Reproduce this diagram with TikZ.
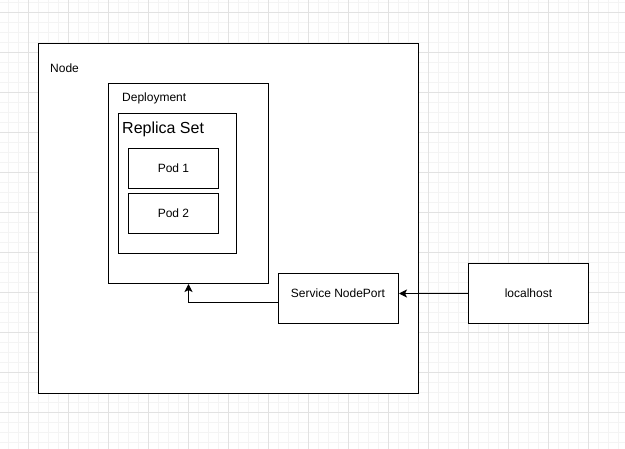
\documentclass[tikz,border=0pt]{standalone}
\usepackage{fontspec}
\setmainfont{Liberation Sans}
\usetikzlibrary{arrows.meta}
\definecolor{gridmajor}{RGB}{226,226,226}
\definecolor{gridminor}{RGB}{244,244,244}
\begin{document}
\begin{tikzpicture}[x=1pt,y=-1pt,
  box/.style={draw=black, fill=white, line width=1pt, inner sep=0pt, anchor=north west},
  lbl/.style={font=\fontsize{12}{14}\selectfont, inner sep=0pt},
  biglbl/.style={font=\fontsize{16}{19}\selectfont, inner sep=0pt},
  link/.style={draw=black, line width=1pt, -{Stealth[length=8pt,width=8pt,inset=2pt]}}]
% canvas and background grid
\fill[white] (0,0) rectangle (625,449);
\useasboundingbox (0,0) rectangle (625,449);
\foreach \x in {8,18,...,618} \draw[gridminor, line width=1pt] (\x,0) -- (\x,449);
\foreach \y in {3,13,...,443} \draw[gridminor, line width=1pt] (0,\y) -- (625,\y);
\foreach \x in {28,68,...,608} \draw[gridmajor, line width=1pt] (\x,0) -- (\x,449);
\foreach \y in {13,53,...,433} \draw[gridmajor, line width=1pt] (0,\y) -- (625,\y);

% containers
\node[box, minimum width=380pt, minimum height=350pt] (nodebox) at (38,43) {};
\node[lbl, anchor=west] (nodelbl) at (50,68) {Node};
\node[box, minimum width=160pt, minimum height=200pt] (dep) at (108,83) {};
\node[lbl, anchor=west] (deplbl) at (122,98) {Deployment};
\node[box, minimum width=118pt, minimum height=140pt] (rs) at (118,113) {};
\node[biglbl, anchor=west] (rslbl) at (122,129) {Replica Set};

% pods
\node[box, minimum width=90pt, minimum height=40pt] (pod1) at (128,148) {};
\node[lbl] at (pod1.center) {Pod 1};
\node[box, minimum width=90pt, minimum height=40pt] (pod2) at (128,193) {};
\node[lbl] at (pod2.center) {Pod 2};

% service and client
\node[box, minimum width=120pt, minimum height=50pt] (svc) at (278,273) {};
\node[lbl] (svclbl) at (338,293) {Service NodePort};
\node[box, minimum width=120pt, minimum height=60pt] (lh) at (468,263) {};
\node[lbl] at (lh.center) {localhost};

% connections
\draw[link] (lh.west) -- (svc.east |- lh.west);
\draw[link] ([yshift=-4pt]svc.west) -| (dep.south);
\end{tikzpicture}
\end{document}
